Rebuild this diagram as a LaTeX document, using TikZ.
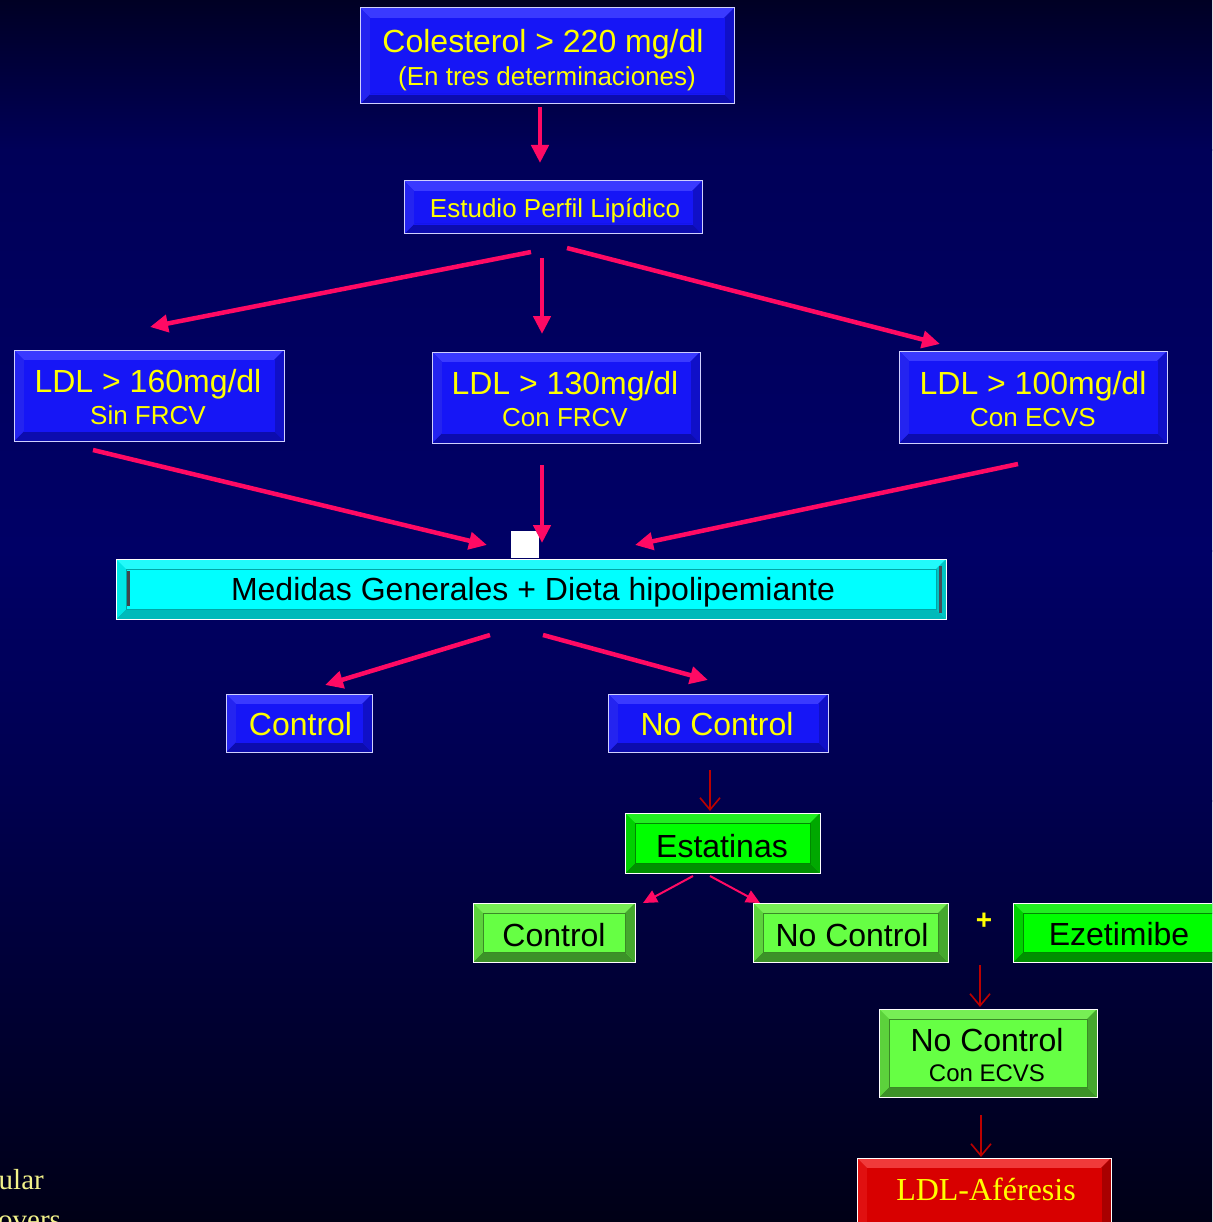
\documentclass[tikz,border=0pt]{standalone}
\usepackage{fontspec}
\setmainfont{Liberation Sans}
\newfontfamily\timesfont{Liberation Serif}
\usetikzlibrary{arrows.meta,calc}
\definecolor{bgA}{HTML}{000024}
\definecolor{bgB}{HTML}{000058}
\definecolor{bgC}{HTML}{000066}
\definecolor{bgD}{HTML}{00004E}
\definecolor{bgE}{HTML}{000016}
\definecolor{pinkarr}{HTML}{FF0A64}
\definecolor{darkarr}{HTML}{BB0000}
\definecolor{ylw}{HTML}{FFFF00}
\definecolor{paleylw}{HTML}{F2F28A}
\definecolor{lav}{HTML}{D0D0FF}
% blue
\definecolor{bFace}{HTML}{1616F6}
\definecolor{bTop}{HTML}{3A3AFF}
\definecolor{bLeft}{HTML}{2424F0}
\definecolor{bRight}{HTML}{1010C8}
\definecolor{bBot}{HTML}{0C0CAE}
% cyan
\definecolor{cFace}{HTML}{00FFFF}
\definecolor{cTop}{HTML}{22FAFA}
\definecolor{cLeft}{HTML}{00E6E6}
\definecolor{cRight}{HTML}{00C4C4}
\definecolor{cBot}{HTML}{00BABA}
\definecolor{cLine}{HTML}{00A6A6}
% bright green
\definecolor{gFace}{HTML}{00FF00}
\definecolor{gTop}{HTML}{22EE22}
\definecolor{gLeft}{HTML}{00D000}
\definecolor{gRight}{HTML}{00A800}
\definecolor{gBot}{HTML}{009000}
\definecolor{gLine}{HTML}{008800}
% light green
\definecolor{lFace}{HTML}{66FF44}
\definecolor{lTop}{HTML}{77EE55}
\definecolor{lLeft}{HTML}{5CD23C}
\definecolor{lRight}{HTML}{45A82E}
\definecolor{lBot}{HTML}{3C9228}
\definecolor{lLine}{HTML}{3A8A26}
% red
\definecolor{rFace}{HTML}{D80000}
\definecolor{rTop}{HTML}{F03A3A}
\definecolor{rLeft}{HTML}{E01010}
\definecolor{rRight}{HTML}{A80000}
\definecolor{rBot}{HTML}{960000}
\def\bw{10pt}
\tikzset{
  bevbox/.style n args={6}{
    rectangle, inner sep=0pt, outer sep=0pt, fill=#1, draw=lav, line width=1pt,
    path picture={
      \path (path picture bounding box.north west) coordinate (pnw)
            (path picture bounding box.north east) coordinate (pne)
            (path picture bounding box.south west) coordinate (psw)
            (path picture bounding box.south east) coordinate (pse);
      \fill[#2] (pnw) -- (pne) -- ([shift={(-\bw,-\bw)}]pne) -- ([shift={(\bw,-\bw)}]pnw) -- cycle;
      \fill[#5] (psw) -- (pse) -- ([shift={(-\bw,\bw)}]pse) -- ([shift={(\bw,\bw)}]psw) -- cycle;
      \fill[#3] (pnw) -- ([shift={(\bw,-\bw)}]pnw) -- ([shift={(\bw,\bw)}]psw) -- (psw) -- cycle;
      \fill[#4] (pne) -- ([shift={(-\bw,-\bw)}]pne) -- ([shift={(-\bw,\bw)}]pse) -- (pse) -- cycle;
      \draw[#6, line width=0.8pt] ([shift={(\bw,-\bw)}]pnw) rectangle ([shift={(-\bw,\bw)}]pse);
    }
  },
  bluebox/.style={bevbox={bFace}{bTop}{bLeft}{bRight}{bBot}{bFace}},
  cyanbox/.style={bevbox={cFace}{cTop}{cLeft}{cRight}{cBot}{cLine}},
  greenbox/.style={bevbox={gFace}{gTop}{gLeft}{gRight}{gBot}{gLine}, draw=white},
  lgreenbox/.style={bevbox={lFace}{lTop}{lLeft}{lRight}{lBot}{lLine}, draw=white},
  redbox/.style={bevbox={rFace}{rTop}{rLeft}{rRight}{rBot}{rFace}, draw=white},
  txt/.style={anchor=base, inner sep=0pt, text=ylw, font=\fontsize{32}{38}\selectfont},
  txts/.style={txt, font=\fontsize{26}{30}\selectfont},
  btxt/.style={txt, text=black},
  pinkarrow/.style={draw=pinkarr, line width=4.5pt, -{Triangle[length=18pt,width=17pt]}},
  thinpink/.style={draw=pinkarr, line width=2pt, -{Triangle[length=14pt,width=13pt]}},
  redarrow/.style={draw=darkarr, line width=1.6pt, -{Straight Barb[length=12pt,width=20pt,line width=1.6pt]}}
}
\begin{document}
\begin{tikzpicture}[x=1pt,y=-1pt]
\useasboundingbox (0,0) rectangle (1212,1222);
\clip (0,0) rectangle (1212,1222);
% background
\shade[top color=bgA, bottom color=bgB] (0,0) rectangle (1212,151);
\shade[top color=bgB, bottom color=bgC] (0,150) rectangle (1212,551);
\shade[top color=bgC, bottom color=bgD] (0,550) rectangle (1212,801);
\shade[top color=bgD, bottom color=bgE] (0,800) rectangle (1212,1222);

% boxes
\node (col)  [bluebox, minimum width=374pt, minimum height=96pt] at (547,56) {};
\node (est)  [bluebox, minimum width=298pt, minimum height=53pt] at (553,207.5) {};
\node (ldl1) [bluebox, minimum width=270pt, minimum height=91pt] at (149,395.5) {};
\node (ldl2) [bluebox, minimum width=268pt, minimum height=91pt] at (566,397.5) {};
\node (ldl3) [bluebox, minimum width=268pt, minimum height=92pt] at (1033,397) {};
\node (med)  [cyanbox, minimum width=830pt, minimum height=60pt, draw=white] at (531,589) {};
\node (ctla) [bluebox, minimum width=146pt, minimum height=58pt] at (299,723) {};
\node (ncta) [bluebox, minimum width=220pt, minimum height=58pt] at (718,723) {};
\node (stat) [greenbox, minimum width=195pt, minimum height=60pt] at (722.5,843) {};
\node (ctlb) [lgreenbox, minimum width=162pt, minimum height=59pt] at (554,932.5) {};
\node (nctb) [lgreenbox, minimum width=195pt, minimum height=59pt] at (850.5,932.5) {};
\node (eze)  [greenbox, minimum width=220pt, minimum height=59pt, anchor=west] at (1013,932.5) {};
\node (nctc) [lgreenbox, minimum width=218pt, minimum height=88pt] at (988,1053) {};
\node (afe)  [redbox, minimum width=254pt, minimum height=80pt, anchor=north] at (984,1158) {};
\node (wsq)  [fill=white, inner sep=0pt, minimum width=28pt, minimum height=27pt] at (525,544.5) {};

% dark bars on the cyan box
\fill[black!80!cyan] (127,571) rectangle (130,606);
\fill[black!75!cyan] (939,566) rectangle (942,613);

% texts
\node (t-col1) [txt] at (543,53) {Colesterol > 220 mg/dl};
\node (t-col2) [txts] at (547,86) {(En tres determinaciones)};
\node (t-est)  [txts] at (555,218) {Estudio Perfil Lipídico};
\node (t-l1a)  [txt] at (148,392) {LDL > 160mg/dl};
\node (t-l1b)  [txts] at (148,424) {Sin FRCV};
\node (t-l2a)  [txt] at (565,394) {LDL > 130mg/dl};
\node (t-l2b)  [txts] at (565,426) {Con FRCV};
\node (t-l3a)  [txt] at (1033,394) {LDL > 100mg/dl};
\node (t-l3b)  [txts] at (1033,426) {Con ECVS};
\node (t-med)  [btxt] at (533,600) {Medidas Generales + Dieta hipolipemiante};
\node (t-ctla) [txt] at (300.5,735) {Control};
\node (t-ncta) [txt] at (717,735) {No Control};
\node (t-stat) [btxt] at (722,857) {Estatinas};
\node (t-ctlb) [btxt] at (554,946) {Control};
\node (t-nctb) [btxt] at (852,946) {No Control};
\node (t-plus) [txt, anchor=center, font=\bfseries\fontsize{28}{32}\selectfont] at (984,921) {+};
\node (t-eze)  [btxt] at (1119,945) {Ezetimibe};
\node (t-nctc1) [btxt] at (987,1051) {No Control};
\node (t-nctc2) [btxt, font=\fontsize{24}{28}\selectfont] at (987,1081) {Con ECVS};
\node (t-afe)  [txt, font=\timesfont\fontsize{32}{38}\selectfont] at (986,1200) {LDL-Aféresis};
\node (t-ular) [txt, text=paleylw, anchor=base east, font=\timesfont\fontsize{29}{34}\selectfont] at (44,1189) {ular};
\node (t-overs) [txt, text=paleylw, anchor=base west, font=\timesfont\fontsize{29}{34}\selectfont] at (-2,1229) {overs};

% thick pink arrows
\draw[pinkarrow] ($(col.south)+(-7,3)$) -- ($(est.north)+(-13,-18)$);
\draw[pinkarrow] ($(est.south)+(-22,18)$) -- ($(ldl1.north)+(1,-23)$);
\draw[pinkarrow] ($(est.south)+(-11,24)$) -- ($(ldl2.north)+(-24,-18)$);
\draw[pinkarrow] ($(est.south)+(14,14)$) -- ($(ldl3.north)+(-93,-7)$);
\draw[pinkarrow] ($(ldl1.south)+(-56,9)$) -- ($(med.north)+(-44,-14)$);
\draw[pinkarrow] ($(ldl2.south)+(-24,22)$) -- ($(med.north)+(11,-16)$);
\draw[pinkarrow] ($(ldl3.south)+(-15,21)$) -- ($(med.north)+(104,-14)$);
\draw[pinkarrow] ($(med.south)+(-41,16)$) -- ($(ctla.north)+(26,-9)$);
\draw[pinkarrow] ($(med.south)+(12,16)$) -- ($(ncta.north)+(-10,-14)$);
% thin pink arrows
\draw[thinpink] ($(stat.south)+(-29.5,3)$) -- ($(ctlb.north east)+(8,0)$);
\draw[thinpink] ($(stat.south)+(-12.5,3)$) -- ($(nctb.north west)+(7,0)$);
% dark red arrows
\draw[redarrow] ($(ncta.south)+(-8,18)$) -- ($(stat.north)+(-12.5,-2)$);
\draw[redarrow] ($(nctc.north)+(-8,-44)$) -- ($(nctc.north)+(-8,-2)$);
\draw[redarrow] ($(nctc.south)+(-7,18)$) -- ($(afe.north)+(-3,-1)$);
\end{tikzpicture}
\end{document}
